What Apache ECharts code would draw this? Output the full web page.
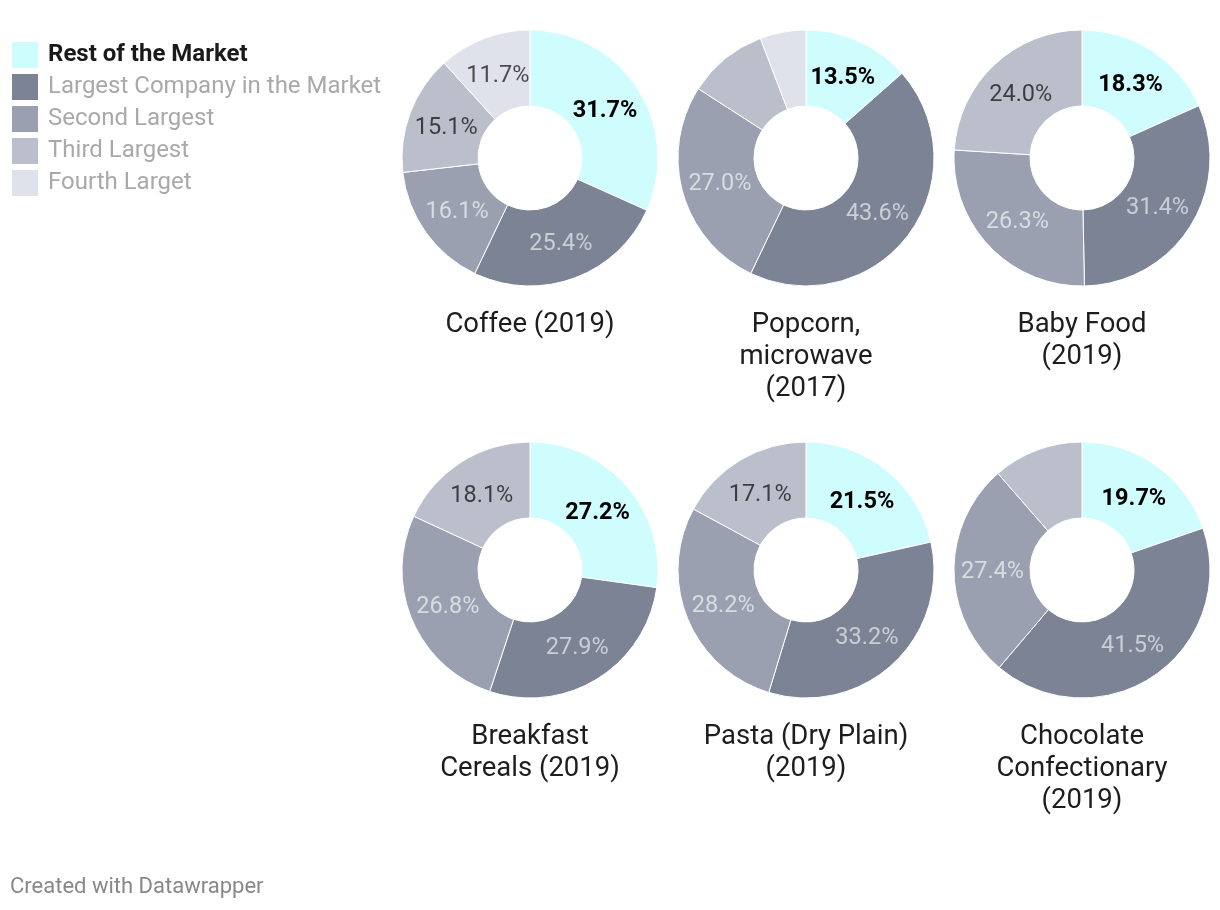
<!DOCTYPE html>
<html>
<head>
<meta charset="utf-8">
<script src="https://cdn.jsdelivr.net/npm/echarts@6/dist/echarts.min.js"></script>
<style>
html,body{margin:0;padding:0;background:#fff;}
#chart{width:1220px;height:910px;}
</style>
</head>
<body>
<div id="chart"></div>
<script>
// ---- data ----
var categories = ['Rest of the Market', 'Largest Company in the Market', 'Second Largest', 'Third Largest', 'Fourth Larget'];
var chartTitles = ['Coffee (2019)', 'Popcorn,\nmicrowave\n(2017)', 'Baby Food\n(2019)', 'Breakfast\nCereals (2019)', 'Pasta (Dry Plain)\n(2019)', 'Chocolate\nConfectionary\n(2019)'];
var coffee    = [31.7, 25.4, 16.1, 15.1, 11.7];
var popcorn   = [13.5, 43.6, 27.0, 10.1, 5.8];
var babyFood  = [18.3, 31.4, 26.3, 24.0];
var cereals   = [27.2, 27.9, 26.8, 18.1];
var pasta     = [21.5, 33.2, 28.2, 17.1];
var chocolate = [19.7, 41.5, 27.4, 11.4];
var allValues = [coffee, popcorn, babyFood, cereals, pasta, chocolate];

// ---- style / layout ----
var colors = ['#cffcfd', '#7b8394', '#9aa0af', '#bbbfcb', '#dfe2eb'];
var labelColors = ['#000000', 'rgba(255,255,255,0.6)', 'rgba(255,255,255,0.62)', 'rgba(0,0,0,0.68)', 'rgba(0,0,0,0.68)'];
var centers = [[530, 158], [806, 158], [1082, 158], [530, 570], [806, 570], [1082, 570]];
var titleTops = [309, 309, 309, 721, 721, 721];
var minLabel = 11.5;
var FONT = 'Roboto, "Noto Sans", sans-serif';

var series = [];
allValues.forEach(function (vals, si) {
  // ring
  series.push({
    type: 'pie',
    center: centers[si],
    radius: [52, 128],
    startAngle: 90,
    clockwise: true,
    silent: true,
    animation: false,
    itemStyle: { borderColor: '#ffffff', borderWidth: 1 },
    label: { show: false },
    labelLine: { show: false },
    emphasis: { disabled: true },
    data: vals.map(function (v, i) {
      return { name: categories[i], value: v, itemStyle: { color: colors[i] } };
    })
  });
  // value labels (transparent ring, sized so labels sit at the ring's mid radius)
  series.push({
    type: 'pie',
    center: centers[si],
    radius: [52, 121],
    startAngle: 90,
    clockwise: true,
    silent: true,
    animation: false,
    avoidLabelOverlap: false,
    itemStyle: { color: 'rgba(0,0,0,0)', borderWidth: 0 },
    labelLine: { show: false },
    emphasis: { disabled: true },
    data: vals.map(function (v, i) {
      return {
        name: categories[i],
        value: v,
        itemStyle: { color: 'rgba(0,0,0,0)' },
        label: {
          show: v >= minLabel,
          position: 'inside',
          offset: [0, 2],
          formatter: v.toFixed(1) + '%',
          color: labelColors[i],
          fontFamily: FONT,
          fontSize: 23.5,
          fontWeight: i === 0 ? 'bold' : 'normal'
        }
      };
    })
  });
});

var titles = chartTitles.map(function (t, i) {
  return {
    text: t,
    left: centers[i][0],
    top: titleTops[i],
    textAlign: 'center',
    padding: 0,
    textStyle: { fontFamily: FONT, fontSize: 27.5, fontWeight: 'normal', color: '#1d1d1d', lineHeight: 32 }
  };
});

var legendData = categories.map(function (c, i) {
  return {
    name: c,
    icon: 'rect',
    itemStyle: { color: colors[i] },
    textStyle: i === 0 ? { color: '#1a1a1a', fontWeight: 'bold' } : { color: '#a9a9a9', fontWeight: 'normal' }
  };
});

var chart = echarts.init(document.getElementById('chart'), null, { renderer: 'canvas' });
chart.setOption({
  animation: false,
  backgroundColor: '#ffffff',
  title: titles,
  legend: {
    orient: 'vertical',
    left: 10,
    top: 40,
    padding: 0,
    itemWidth: 28,
    itemHeight: 28,
    itemGap: 2,
    selectedMode: false,
    data: legendData,
    textStyle: { fontFamily: FONT, fontSize: 24, lineHeight: 28, padding: [0, 0, 0, 4] }
  },
  graphic: [{
    type: 'text',
    left: 10,
    top: 876,
    style: { text: 'Created with Datawrapper', fontFamily: FONT, fontSize: 22, fill: '#888888' }
  }],
  series: series
});
</script>
</body>
</html>
